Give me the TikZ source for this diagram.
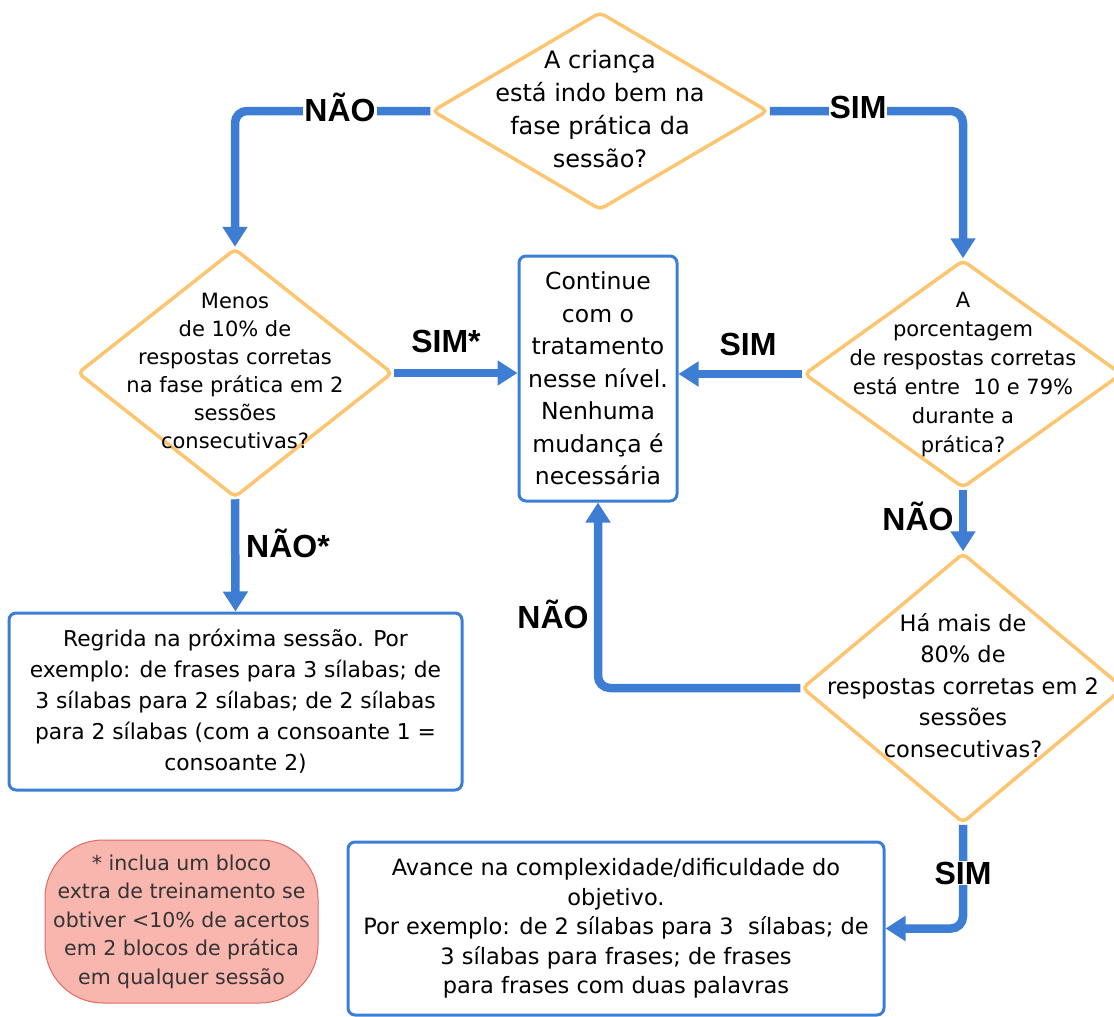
\documentclass[tikz,border=0pt]{standalone}
\usepackage{fontspec}
\setmainfont{DejaVu Sans}
\newfontfamily\labfont{Liberation Sans}
\usetikzlibrary{shapes.geometric,arrows.meta}
\definecolor{connblue}{HTML}{3D7DD4}
\definecolor{boxblue}{HTML}{3A7FD5}
\definecolor{dorange}{HTML}{FDC570}
\definecolor{notefill}{HTML}{F9B6AF}
\definecolor{noteline}{HTML}{E06A62}
\newcommand{\dtext}[2][0pt]{\raisebox{#1}{\makebox[0pt]{\begin{tabular}{@{}c@{}}#2\end{tabular}}}}
\tikzset{
  dia/.style={shape=diamond, draw=dorange, line width=3.5pt, rounded corners=5pt, inner sep=0pt, fill=white},
  tbox/.style={shape=rectangle, draw=boxblue, line width=3pt, rounded corners=7pt, align=center, inner sep=0pt},
  conn/.style={draw=connblue, line width=8.5pt, rounded corners=12pt, -{Triangle[length=20pt,width=24pt]}},
  lab/.style={font=\labfont\bfseries\fontsize{32}{36}\selectfont, inner sep=1pt},
  onlab/.style={lab, fill=white},
}
\begin{document}
\begin{tikzpicture}[x=1pt,y=-1pt]
\useasboundingbox (0,0) rectangle (1114,1017);
% decisions
\node[dia, minimum width=336pt, minimum height=198pt] (d1) at (600,111)
  {\fontsize{24}{33}\selectfont\dtext{A criança\\está indo bem na\\fase prática da\\sessão?}};
\node[dia, minimum width=315pt, minimum height=249pt] (d2) at (235,373)
  {\fontsize{21}{28}\selectfont\dtext[16pt]{Menos\\de 10\% de\\respostas corretas\\na fase prática em 2\\sessões\\consecutivas?}};
\node[dia, minimum width=318pt, minimum height=228pt] (d3) at (963,374)
  {\fontsize{21}{29}\selectfont\dtext[-4pt]{A\\porcentagem\\de respostas corretas\\está entre~ 10 e 79\%\\durante a\\prática?}};
\node[dia, minimum width=322pt, minimum height=270pt] (d4) at (963,688)
  {\fontsize{22.5}{31.5}\selectfont\dtext[4pt]{Há mais de\\80\% de\\respostas corretas em 2\\sessões\\consecutivas?}};
% boxes
\node[tbox, minimum width=158pt, minimum height=245pt, font=\fontsize{23.5}{32.5}\selectfont] (cbox) at (598,378.5)
  {Continue\\com o\\tratamento\\nesse nível.\\Nenhuma\\mudança é\\necessária};
\node[tbox, minimum width=453pt, minimum height=177pt, font=\fontsize{21.8}{31}\selectfont] (lbox) at (235.5,701.5)
  {Regrida na próxima sessão. Por\\exemplo: de frases para 3 sílabas; de\\3 sílabas para 2 sílabas; de 2 sílabas\\para 2 sílabas (com a consoante 1 =\\consoante 2)};
\node[tbox, minimum width=536pt, minimum height=173pt, font=\fontsize{22.5}{29.5}\selectfont] (bbox) at (616,928.5)
  {Avance na complexidade/dificuldade do\\objetivo.\\Por exemplo: de 2 sílabas para 3~ sílabas; de\\3 sílabas para frases; de frases\\para frases com duas palavras};
\node[shape=rectangle, draw=noteline, line width=1pt, fill=notefill, rounded corners=58pt,
      minimum width=273pt, minimum height=163pt, align=center, inner sep=0pt, text=black!80,
      font=\fontsize{20.5}{28.5}\selectfont] (note) at (181.5,921.5)
  {* inclua um bloco\\extra de treinamento se\\obtiver <10\% de acertos\\em 2 blocos de prática\\em qualquer sessão};
% connectors
\draw[conn] (d1.west) -| (d2.north);
\draw[conn] (d1.east) -| (d3.north);
\draw[conn] (d2.east) -- (d2.east -| cbox.west);
\draw[conn] (d3.west) -- (d3.west -| cbox.east);
\draw[conn] (d2.south) -- (lbox.north);
\draw[conn] (d3.south) -- (d4.north);
\draw[conn] (d4.west) -| (cbox.south);
\draw[conn] (d4.south) |- (bbox.east);
% labels
\node[onlab] (l1) at (340,107) {NÃO};
\node[onlab] (l2) at (858,107) {SIM};
\node[lab] (l3) at (446,341) {SIM*};
\node[lab] (l4) at (748,344) {SIM};
\node[lab] (l5) at (288,543) {NÃO*};
\node[lab] (l6) at (918,516) {NÃO};
\node[lab] (l7) at (553,614) {NÃO};
\node[onlab] (l8) at (963,873) {SIM};
\end{tikzpicture}
\end{document}
